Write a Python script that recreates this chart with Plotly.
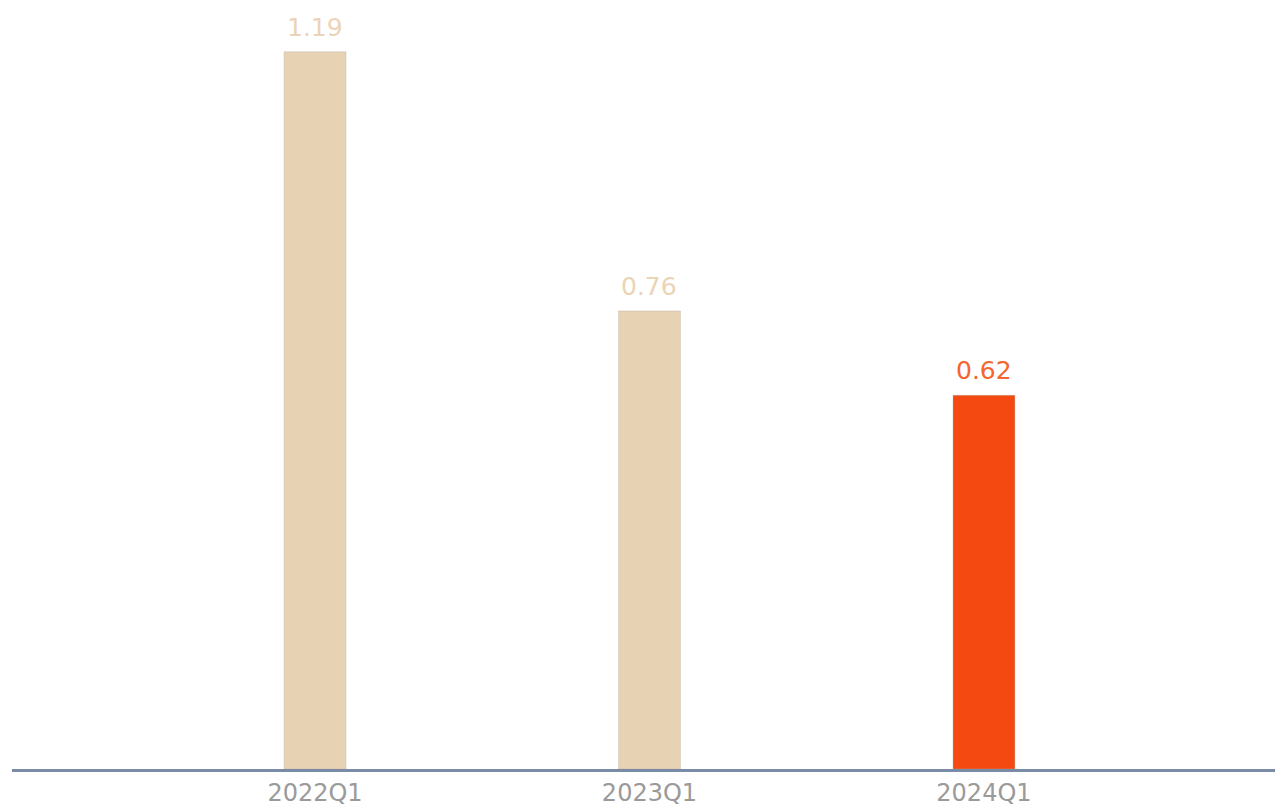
import plotly.graph_objects as go

categories = ["2022Q1", "2023Q1", "2024Q1"]
values = [1.19, 0.76, 0.62]
labels = ["1.19", "0.76", "0.62"]
bar_colors = ["#E8D2B4", "#E8D2B4", "#F44A11"]
label_colors = ["#EBD4B6", "#EBD4B6", "#F5652F"]

xpos = list(range(len(categories)))

fig = go.Figure()
fig.add_trace(go.Bar(
    x=xpos, y=values, width=0.185,
    marker=dict(color=bar_colors, line=dict(color="rgba(180,170,160,0.35)", width=1)),
    hoverinfo="skip",
))

for xi, v, t, c in zip(xpos, values, labels, label_colors):
    fig.add_annotation(x=xi, y=v, text=t, showarrow=False, yanchor="bottom",
                       yshift=8, font=dict(family="DejaVu Sans", size=25, color=c))

fig.update_layout(
    width=1283, height=806,
    margin=dict(l=4, r=0, t=0, b=45),
    paper_bgcolor="white", plot_bgcolor="white",
    showlegend=False,
    xaxis=dict(range=[-0.906, 2.918], tickvals=xpos, ticktext=categories,
               showgrid=False, zeroline=False, showline=True, linecolor="#7A8CA5",
               linewidth=3, ticks="", tickfont=dict(family="DejaVu Sans", size=24, color="#9A9A9A")),
    yaxis=dict(range=[0, 1.2627], visible=False, showgrid=False, zeroline=False),
)

fig.write_html("out.html")
